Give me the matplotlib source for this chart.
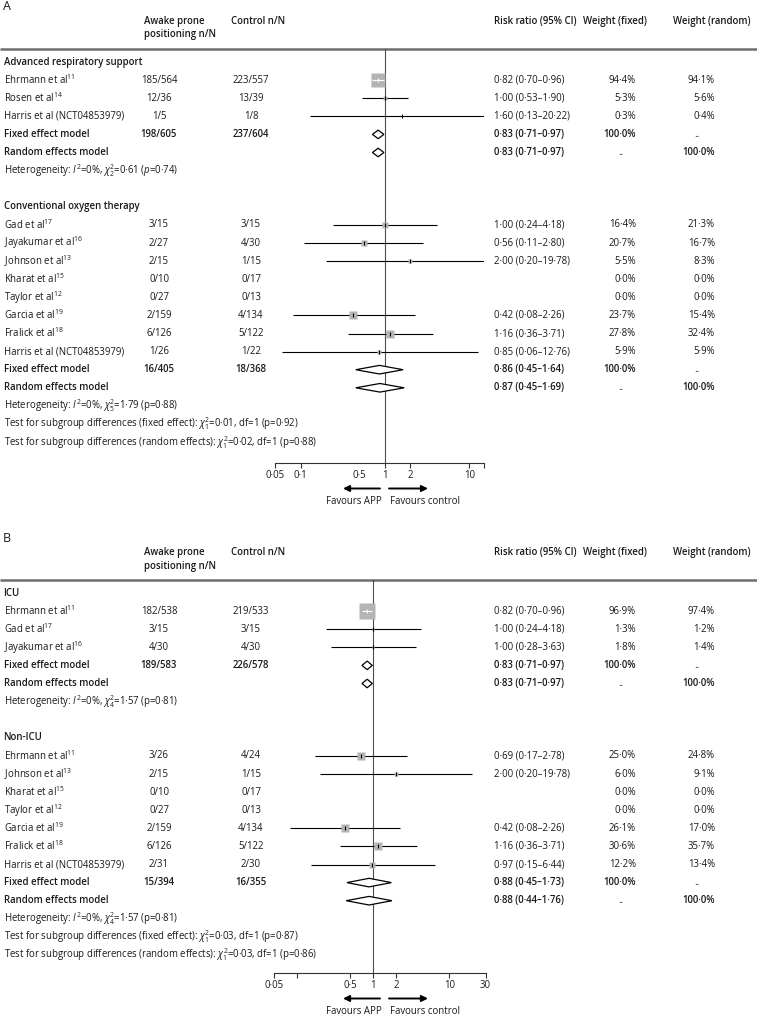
import numpy as np
import matplotlib
matplotlib.use("Agg")
import matplotlib.pyplot as plt
from matplotlib.ticker import NullLocator
from matplotlib import font_manager

plt.rcParams['font.family'] = ['Open Sans', 'Noto Sans', 'DejaVu Sans']
plt.rcParams['mathtext.fontset'] = 'custom'
plt.rcParams['mathtext.rm'] = 'Open Sans'
plt.rcParams['mathtext.it'] = 'Open Sans:italic'
plt.rcParams['mathtext.bf'] = 'Open Sans:bold'

# ---- Panel A, subgroup 1: advanced respiratory support
a1_names = ["Ehrmann et al$^{11}$", "Rosen et al$^{14}$", "Harris et al (NCT04853979)"]
a1_app = ["185/564", "12/36", "1/5"]
a1_ctl = ["223/557", "13/39", "1/8"]
a1_rr = [0.82, 1.00, 1.60]
a1_lo = [0.70, 0.53, 0.13]
a1_hi = [0.96, 1.90, 20.22]
a1_wf = [94.4, 5.3, 0.3]
a1_wr = [94.1, 5.6, 0.4]
a1_total = ["198/605", "237/604"]
a1_fixed = [0.83, 0.71, 0.97]
a1_random = [0.83, 0.71, 0.97]
a1_het = "Heterogeneity: $I^2$=0%, $\\chi^2_2$=0·61 ($p$=0·74)"

# ---- Panel A, subgroup 2: conventional oxygen therapy
a2_names = ["Gad et al$^{17}$", "Jayakumar et al$^{16}$", "Johnson et al$^{13}$", "Kharat et al$^{15}$",
            "Taylor et al$^{12}$", "Garcia et al$^{19}$", "Fralick et al$^{18}$", "Harris et al (NCT04853979)"]
a2_app = ["3/15", "2/27", "2/15", "0/10", "0/27", "2/159", "6/126", "1/26"]
a2_ctl = ["3/15", "4/30", "1/15", "0/17", "0/13", "4/134", "5/122", "1/22"]
a2_rr = [1.00, 0.56, 2.00, np.nan, np.nan, 0.42, 1.16, 0.85]
a2_lo = [0.24, 0.11, 0.20, np.nan, np.nan, 0.08, 0.36, 0.06]
a2_hi = [4.18, 2.80, 19.78, np.nan, np.nan, 2.26, 3.71, 12.76]
a2_wf = [16.4, 20.7, 5.5, 0.0, 0.0, 23.7, 27.8, 5.9]
a2_wr = [21.3, 16.7, 8.3, 0.0, 0.0, 15.4, 32.4, 5.9]
a2_total = ["16/405", "18/368"]
a2_fixed = [0.86, 0.45, 1.64]
a2_random = [0.87, 0.45, 1.69]
a2_het = "Heterogeneity: $I^2$=0%, $\\chi^2_5$=1·79 (p=0·88)"

a_tests = ["Test for subgroup differences (fixed effect): $\\chi^2_1$=0·01, df=1 (p=0·92)",
           "Test for subgroup differences (random effects): $\\chi^2_1$=0·02, df=1 (p=0·88)"]
a_ticks = [0.05, 0.1, 0.5, 1, 2, 10, 15]
a_ticklabels = ["0·05", "0·1", "0·5", "1", "2", "10", ""]

# ---- Panel B, subgroup 1: ICU
b1_names = ["Ehrmann et al$^{11}$", "Gad et al$^{17}$", "Jayakumar et al$^{16}$"]
b1_app = ["182/538", "3/15", "4/30"]
b1_ctl = ["219/533", "3/15", "4/30"]
b1_rr = [0.82, 1.00, 1.00]
b1_lo = [0.70, 0.24, 0.28]
b1_hi = [0.96, 4.18, 3.63]
b1_wf = [96.9, 1.3, 1.8]
b1_wr = [97.4, 1.2, 1.4]
b1_total = ["189/583", "226/578"]
b1_fixed = [0.83, 0.71, 0.97]
b1_random = [0.83, 0.71, 0.97]
b1_het = "Heterogeneity: $I^2$=0%, $\\chi^2_4$=1·57 (p=0·81)"

# ---- Panel B, subgroup 2: non-ICU
b2_names = ["Ehrmann et al$^{11}$", "Johnson et al$^{13}$", "Kharat et al$^{15}$", "Taylor et al$^{12}$",
            "Garcia et al$^{19}$", "Fralick et al$^{18}$", "Harris et al (NCT04853979)"]
b2_app = ["3/26", "2/15", "0/10", "0/27", "2/159", "6/126", "2/31"]
b2_ctl = ["4/24", "1/15", "0/17", "0/13", "4/134", "5/122", "2/30"]
b2_rr = [0.69, 2.00, np.nan, np.nan, 0.42, 1.16, 0.97]
b2_lo = [0.17, 0.20, np.nan, np.nan, 0.08, 0.36, 0.15]
b2_hi = [2.78, 19.78, np.nan, np.nan, 2.26, 3.71, 6.44]
b2_wf = [25.0, 6.0, 0.0, 0.0, 26.1, 30.6, 12.2]
b2_wr = [24.8, 9.1, 0.0, 0.0, 17.0, 35.7, 13.4]
b2_total = ["15/394", "16/355"]
b2_fixed = [0.88, 0.45, 1.73]
b2_random = [0.88, 0.44, 1.76]
b2_het = "Heterogeneity: $I^2$=0%, $\\chi^2_4$=1·57 (p=0·81)"

b_tests = ["Test for subgroup differences (fixed effect): $\\chi^2_1$=0·03, df=1 (p=0·87)",
           "Test for subgroup differences (random effects): $\\chi^2_1$=0·03, df=1 (p=0·86)"]
b_ticks = [0.05, 0.1, 0.5, 1, 2, 10, 30]
b_ticklabels = ["0·05", "", "0·5", "1", "2", "10", "30"]

# ---- layout (pixels)
W, H = 757, 1016
ROW = 18.1
FS = 6.9
TXT = '#1a1a1a'
SQ = '#b4b4b4'
BOLD = 'semibold'
X_NAME, X_APP, X_CTL, X_CI, X_WF, X_WR = 3.5, 159, 251, 494, 636, 715
X_DOT_F, X_DOT_R = 621, 697

fig = plt.figure(figsize=(W / 100, H / 100), dpi=100)
tx = fig.add_axes([0, 0, 1, 1])
tx.set_xlim(0, W)
tx.set_ylim(H, 0)
tx.axis('off')


def txt(x, y, s, **kw):
    kw.setdefault('ha', 'left')
    tx.text(x, y, s, va='center', fontsize=kw.pop('fs', FS), color=TXT, **kw)


def dot(s):
    return s.replace('.', '·')


def ci_text(rr, lo, hi):
    return dot(f"{rr:.2f} ({lo:.2f}–{hi:.2f})")


def pct(w):
    return dot(f"{w:.1f}%")


def forest_axes(x_one, px_dec, xmin, xmax, ytop, ybot, ticks, labels):
    x0 = x_one + np.log10(xmin) * px_dec
    x1 = x_one + np.log10(xmax) * px_dec
    ax = fig.add_axes([x0 / W, 1 - ybot / H, (x1 - x0) / W, (ybot - ytop) / H])
    ax.set_xscale('log')
    ax.set_xlim(xmin, xmax)
    ax.set_ylim(ybot, ytop)
    ax.patch.set_alpha(0)
    for s in ['top', 'right', 'left']:
        ax.spines[s].set_visible(False)
    ax.spines['bottom'].set_linewidth(0.8)
    ax.spines['bottom'].set_color('#333333')
    ax.set_yticks([])
    ax.set_xticks(ticks)
    ax.set_xticklabels(labels)
    ax.xaxis.set_minor_locator(NullLocator())
    ax.tick_params(axis='x', direction='out', length=3.6, width=0.8, pad=1.5,
                   labelsize=FS, colors='#333333', labelcolor=TXT)
    ax.axvline(1, color='#4d4d4d', lw=0.8, zorder=1)
    return ax


def diamond(ax, y, est, lo, hi):
    ax.fill([lo, est, hi, est], [y, y - 4.3, y, y + 4.3], facecolor='white',
            edgecolor='k', lw=0.9, zorder=4)


def draw_group(ax, y, px_dec, name, names, app, ctl, rr, lo, hi, wf, wr, total, fixed, rnd, het):
    txt(X_NAME, y, name, weight=BOLD)
    y += ROW
    for i in range(len(names)):
        txt(X_NAME, y, names[i])
        txt(X_APP, y, app[i], ha='center')
        txt(X_CTL, y, ctl[i], ha='center')
        if not np.isnan(rr[i]):
            txt(X_CI, y, ci_text(rr[i], lo[i], hi[i]))
            side = 15.3 * np.sqrt(wf[i] / 100)
            hw = side / 2 / px_dec
            inside = lo[i] >= rr[i] * 10 ** -hw and hi[i] <= rr[i] * 10 ** hw
            col = 'white' if inside else 'k'
            ax.plot([lo[i], hi[i]], [y, y], color=col, lw=0.8, zorder=5 if inside else 2,
                    solid_capstyle='butt')
            ax.plot(rr[i], y, 's', ms=side * 0.72, color=SQ, mec='none', zorder=3)
            ax.plot(rr[i], y, '|', ms=3.4, mew=0.8, color=col, zorder=6)
        txt(X_WF, y, pct(wf[i]), ha='right')
        txt(X_WR, y, pct(wr[i]), ha='right')
        y += ROW
    # fixed effect row
    txt(X_NAME, y, "Fixed effect model", weight=BOLD)
    txt(X_APP, y, total[0], ha='center', weight=BOLD)
    txt(X_CTL, y, total[1], ha='center', weight=BOLD)
    diamond(ax, y, *fixed)
    txt(X_CI, y, ci_text(*fixed), weight=BOLD)
    txt(X_WF, y, "100·0%", ha='right', weight=BOLD)
    txt(X_DOT_R, y, "..", ha='center')
    y += ROW
    # random effects row
    txt(X_NAME, y, "Random effects model", weight=BOLD)
    diamond(ax, y, *rnd)
    txt(X_CI, y, ci_text(*rnd), weight=BOLD)
    txt(X_DOT_F, y, "..", ha='center')
    txt(X_WR, y, "100·0%", ha='right', weight=BOLD)
    y += ROW
    txt(X_NAME, y, het)
    return y + ROW


def draw_panel(letter, ytop, g1_name, g1, g2_name, g2, tests, x_one, px_dec, xmin, xmax,
               ybot, ticks, labels):
    txt(3, ytop - 42, letter, fs=9)
    txt(144, ytop - 27.5, "Awake prone", weight=BOLD)
    txt(144, ytop - 14, "positioning n/N", weight=BOLD)
    txt(231, ytop - 27.5, "Control n/N", weight=BOLD)
    txt(X_CI, ytop - 27.5, "Risk ratio (95% CI)", weight=BOLD)
    txt(583, ytop - 27.5, "Weight (fixed)", weight=BOLD)
    txt(673, ytop - 27.5, "Weight (random)", weight=BOLD)
    tx.plot([0, W], [ytop, ytop], color='#6e6e6e', lw=1.8, solid_capstyle='butt')

    ax = forest_axes(x_one, px_dec, xmin, xmax, ytop, ybot, ticks, labels)
    y = ytop + 13
    y = draw_group(ax, y, px_dec, g1_name, *g1)
    y += ROW
    y = draw_group(ax, y, px_dec, g2_name, *g2)
    for t in tests:
        txt(X_NAME, y, t)
        y += ROW

    ya = ybot + 25.5
    tx.annotate('', xy=(343, ya), xytext=(380, ya),
                arrowprops=dict(arrowstyle='-|>', color='k', lw=1.4, mutation_scale=9,
                                shrinkA=0, shrinkB=0))
    tx.annotate('', xy=(428, ya), xytext=(389, ya),
                arrowprops=dict(arrowstyle='-|>', color='k', lw=1.4, mutation_scale=9,
                                shrinkA=0, shrinkB=0))
    txt(382, ybot + 38.5, "Favours APP", ha='right')
    txt(390, ybot + 38.5, "Favours control")
    return ax


ax_a = draw_panel("A", 49,
                  "Advanced respiratory support",
                  (a1_names, a1_app, a1_ctl, a1_rr, a1_lo, a1_hi, a1_wf, a1_wr,
                   a1_total, a1_fixed, a1_random, a1_het),
                  "Conventional oxygen therapy",
                  (a2_names, a2_app, a2_ctl, a2_rr, a2_lo, a2_hi, a2_wf, a2_wr,
                   a2_total, a2_fixed, a2_random, a2_het),
                  a_tests, 385, 84.3, 0.05, 15, 463, a_ticks, a_ticklabels)
# the 0·5 tick mark is not drawn in panel A
ax_a.xaxis.get_major_ticks()[2].tick1line.set_visible(False)

ax_b = draw_panel("B", 580,
                  "ICU",
                  (b1_names, b1_app, b1_ctl, b1_rr, b1_lo, b1_hi, b1_wf, b1_wr,
                   b1_total, b1_fixed, b1_random, b1_het),
                  "Non-ICU",
                  (b2_names, b2_app, b2_ctl, b2_rr, b2_lo, b2_hi, b2_wf, b2_wr,
                   b2_total, b2_fixed, b2_random, b2_het),
                  b_tests, 373.3, 76.0, 0.05, 30, 973, b_ticks, b_ticklabels)

fig.savefig("out.png", dpi=100)
